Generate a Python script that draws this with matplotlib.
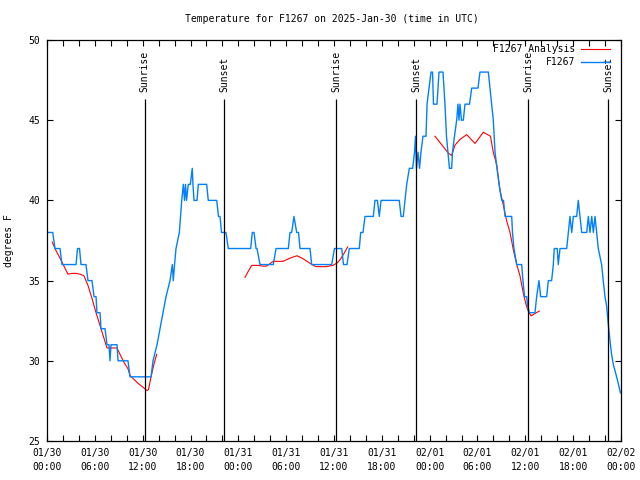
import numpy as np
import matplotlib
matplotlib.use("Agg")
import matplotlib.pyplot as plt
from matplotlib.ticker import MultipleLocator

# ---- data (x in hours since 2025-01-30 00:00 UTC, temperature in deg F) ----
obs_hours = [0.13, 0.72, 1.0, 1.63, 1.88, 3.64, 3.83, 4.08, 4.26, 4.89, 5.14, 5.64, 5.9, 6.15,
             6.27, 6.65, 6.77, 7.28, 7.53, 7.78, 7.9, 8.03, 8.78, 8.91, 10.16, 10.41, 13.05,
             13.3, 13.55, 13.8, 14.17, 14.55, 14.93, 15.43, 15.72, 15.84, 16.0, 16.18, 16.6,
             16.75, 16.9, 17.1, 17.25, 17.37, 17.5, 17.72, 17.98, 18.22, 18.31, 18.44, 18.82,
             18.98, 20.03, 20.23, 21.29, 21.51, 21.7, 21.89, 22.45, 22.74, 25.55, 25.75, 25.97,
             26.22, 26.34, 26.72, 27.63, 28.38, 28.73, 30.27, 30.48, 30.69, 30.98, 31.32, 31.55,
             31.74, 32.99, 33.2, 35.71, 36.06, 36.97, 37.19, 37.63, 37.92, 39.17, 39.35, 39.64,
             39.89, 40.93, 41.14, 41.45, 41.68, 41.9, 44.19, 44.41, 44.69, 44.91, 45.12, 45.45,
             45.87, 46.1, 46.22, 46.35, 46.54, 46.73, 46.91, 47.16, 47.54, 47.67, 47.92, 48.17,
             48.36, 48.48, 48.92, 49.17, 49.67, 49.92, 50.11, 50.3, 50.48, 50.76, 50.86, 51.11,
             51.39, 51.55, 51.68, 51.8, 51.99, 52.22, 52.43, 53.0, 53.27, 54.06, 54.31, 55.36,
             55.57, 55.78, 55.98, 56.2, 56.45, 56.7, 57.04, 57.26, 57.45, 58.29, 58.39, 58.57,
             58.92, 59.14, 59.54, 59.7, 59.9, 60.17, 60.27, 60.5, 61.21, 61.42, 61.71, 61.92,
             62.68, 62.88, 63.3, 63.51, 63.63, 64.0, 64.13, 64.35, 65.19, 65.39, 65.6, 65.82,
             66.02, 66.44, 66.64, 66.85, 67.07, 67.7, 67.9, 68.11, 68.33, 68.53, 68.74, 68.95,
             69.15, 69.36, 69.57, 69.77, 69.99, 70.2, 70.4, 70.61, 70.82, 71.02, 71.24, 71.45,
             71.65, 71.93]
obs_temps = [38, 38, 37, 37, 36, 36, 37, 37, 36, 36, 35, 35, 34, 34,
             33, 33, 32, 32, 31, 31, 30, 31, 31, 30, 30, 29, 29,
             30, 30.5, 31, 32, 33, 34, 35, 36, 35, 36, 37, 38,
             39, 40, 41, 40, 41, 40, 41, 41, 42, 41, 40, 40,
             41, 41, 40, 40, 39, 39, 38, 38, 37, 37, 38, 38,
             37, 37, 36, 36, 36, 37, 37, 38, 38, 39, 38, 38,
             37, 37, 36, 36, 37, 37, 36, 36, 37, 37, 38, 38,
             39, 39, 40, 40, 39, 40, 40, 39, 39, 40, 41, 42,
             42, 43, 44, 42, 43, 42, 43, 44, 44, 46, 47, 48,
             48, 46, 46, 48, 48, 46, 44, 43, 42, 42, 43, 44,
             45, 46, 45, 46, 45, 45, 46, 46, 47, 47, 48, 48,
             47, 46, 45, 43, 42, 41, 40, 40, 39, 39, 38, 37,
             36, 36, 36, 35, 34, 34, 33.5, 33, 33, 34, 35, 34,
             34, 35, 35, 36, 37, 37, 36, 37, 37, 38, 39, 38,
             39, 39, 40, 39, 38, 38, 39, 38, 39, 38, 39, 38,
             37, 36.5, 36, 35, 34, 33.4, 32.3, 31.3, 30.4, 29.8, 29.4, 29,
             28.6, 28]

ana_hours = [0.66, 1.0, 1.63, 2.13, 2.63, 3.14, 3.64, 4.14, 4.64, 5.14, 5.64, 6.15, 6.65, 7.15,
             7.53, 8.78, 9.16, 9.66, 10.16, 10.41, 10.79, 11.41, 12.17, 12.54, 12.73, 13.05,
             13.42, 13.76, np.nan,
             24.84, 25.21, 25.68, 26.47, 27.1, 27.47, 27.97, 28.35, 28.71, 29.6, 30.48, 31.36,
             31.99, 32.61, 33.24, 33.74, 35.0, 35.88, 36.38, 36.76, 37.26, 37.72, np.nan,
             48.67, 50.34, 50.76, 51.18, 51.8, 52.65, 53.69, 54.73, 55.63, 55.98, 56.41, 56.83,
             57.24, 57.67, 58.08, 58.5, 58.92, 59.33, 59.75, 60.09, 60.37, 60.71, 61.21, 61.75]
ana_temps = [37.4, 37.0, 36.4, 35.9, 35.4, 35.45, 35.45, 35.4, 35.3, 34.7, 33.9, 33.0, 32.2, 31.4,
             30.8, 30.8, 30.4, 29.9, 29.5, 29.1, 28.9, 28.6, 28.3, 28.15, 28.2, 29.0,
             29.8, 30.4, np.nan,
             35.2, 35.55, 35.95, 35.95, 35.9, 35.9, 36.05, 36.2, 36.2, 36.2, 36.4, 36.55,
             36.4, 36.2, 36.0, 35.87, 35.87, 35.95, 36.1, 36.3, 36.7, 37.1, np.nan,
             44.0, 42.95, 42.8, 43.45, 43.8, 44.1, 43.55, 44.25, 44.0, 43.0, 42.2, 40.6,
             39.7, 38.7, 38.0, 36.9, 36.0, 35.3, 34.2, 33.5, 33.1, 32.8, 32.95, 33.1]

sun_events = [12.27, 22.25, 36.3, 46.3, 60.35, 70.37]
sun_labels = ["Sunrise", "Sunset", "Sunrise", "Sunset", "Sunrise", "Sunset"]

xtick_hours = [0, 6, 12, 18, 24, 30, 36, 42, 48, 54, 60, 66, 72]
xtick_labels = ["01/30\n00:00", "01/30\n06:00", "01/30\n12:00", "01/30\n18:00",
                "01/31\n00:00", "01/31\n06:00", "01/31\n12:00", "01/31\n18:00",
                "02/01\n00:00", "02/01\n06:00", "02/01\n12:00", "02/01\n18:00",
                "02/02\n00:00"]
ytick_values = [25, 30, 35, 40, 45, 50]

title = "Temperature for F1267 on 2025-Jan-30 (time in UTC)"

# ---- figure ----
plt.rcParams['font.family'] = ['DejaVu Sans Mono', 'DejaVu Sans']
fs = 7

fig = plt.figure(figsize=(6.4, 4.8), dpi=100)
ax = fig.add_axes([47 / 640, 39 / 480, 574 / 640, 401 / 480])

ax.plot(ana_hours, ana_temps, color='#ff0000', lw=0.8, label='F1267 Analysis')
ax.plot(obs_hours, obs_temps, color='#0080ff', lw=1.0, label='F1267')

for h, lab in zip(sun_events, sun_labels):
    ax.vlines(h, 25, 46.32, color='black', lw=0.9)
    ax.text(h, 46.78, lab, rotation=90, ha='center', va='bottom', fontsize=fs)

ax.set_xlim(0, 72)
ax.set_ylim(25, 50)
ax.set_xticks(xtick_hours)
ax.set_xticklabels(xtick_labels, fontsize=fs, linespacing=1.55)
ax.xaxis.set_minor_locator(MultipleLocator(2))
ax.set_yticks(ytick_values)
ax.set_yticklabels([str(v) for v in ytick_values], fontsize=fs)
ax.tick_params(which='both', direction='in', top=True, right=True, length=4, width=0.8)
ax.tick_params(axis='x', pad=5)
ax.tick_params(axis='y', pad=5)
for s in ax.spines.values():
    s.set_linewidth(0.9)

ax.set_ylabel('degrees F', fontsize=fs, labelpad=10)
fig.text(332 / 640, 1 - 19 / 480, title, ha='center', va='center', fontsize=fs)

ax.legend(loc='upper right', bbox_to_anchor=(610 / 640, 1 - 44 / 480),
          bbox_transform=fig.transFigure, frameon=False, markerfirst=False,
          fontsize=fs, handlelength=3.0, handletextpad=0.6, labelspacing=0.35,
          borderpad=0, borderaxespad=0)

fig.savefig('out.png', dpi=100)
